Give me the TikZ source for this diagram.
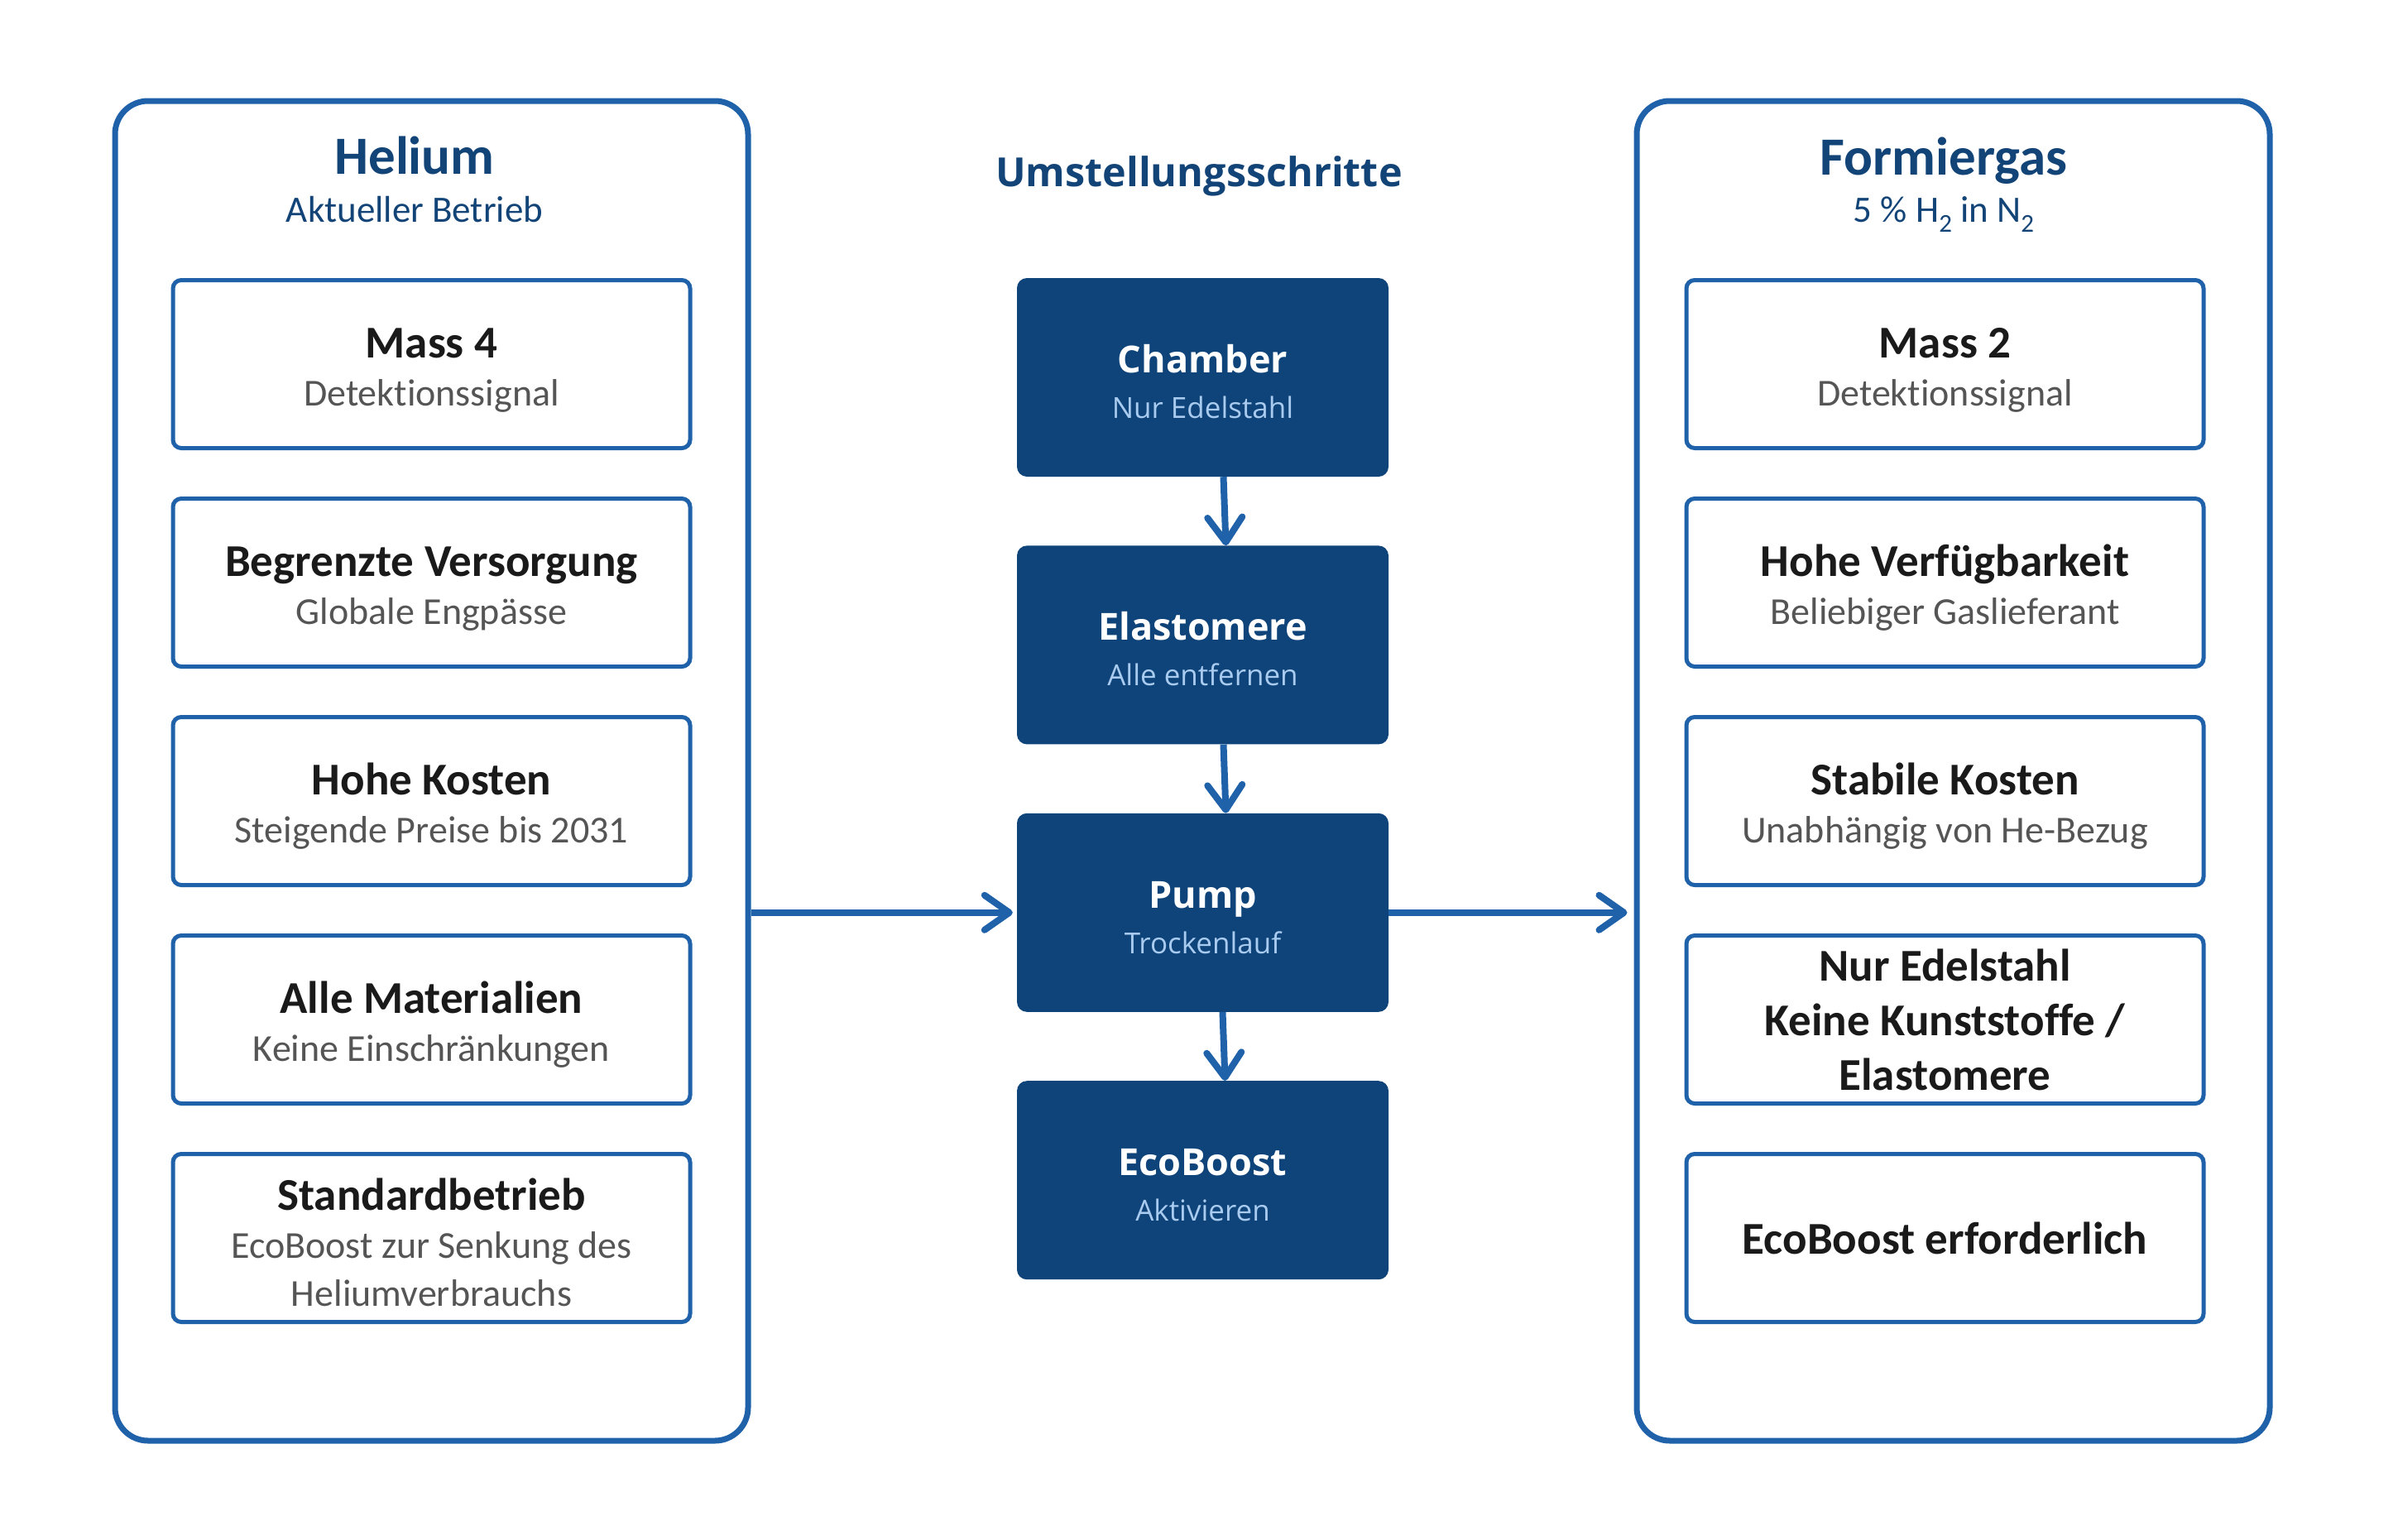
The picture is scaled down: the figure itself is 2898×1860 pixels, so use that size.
\documentclass[tikz,border=0pt]{standalone}
\usepackage{fontspec}
\setmainfont[Ligatures=NoCommon]{Carlito}
\newfontfamily\uifont{Open Sans}
\usetikzlibrary{positioning, arrows.meta}
\definecolor{mBlue}{HTML}{1F62AA}
\definecolor{mNavy}{HTML}{0E4479}
\definecolor{mTitle}{HTML}{134477}
\definecolor{mLight}{HTML}{A9CBEF}
\definecolor{mGray}{HTML}{555555}
\definecolor{mInk}{HTML}{1A1A1A}

\newcommand{\sidehead}[1]{{\fontsize{55}{58}\selectfont\bfseries\color{mInk}\rule{0pt}{50pt}#1}}
\newcommand{\sidetext}[2]{\sidehead{#1}\\\textcolor{mGray}{#2}}
\newcommand{\steptext}[2]{{\fontsize{45}{55}\selectfont\bfseries\rule{0pt}{44pt}#1}\\\textcolor{mLight}{#2}}
\newcommand{\subtwo}{\raisebox{-0.25em}{\fontsize{31}{31}\selectfont 2}}

\begin{document}
\begin{tikzpicture}[x=1pt, y=-1pt,
  every node/.style={font=\fontsize{46}{58}\selectfont},
  panel/.style={draw=mBlue, line width=7pt, rounded corners=40pt,
                minimum width=765pt, minimum height=1619pt, inner sep=0pt},
  sidebox/.style={draw=mBlue, line width=5pt, rounded corners=10pt, fill=white,
                  minimum width=625pt, minimum height=203pt, align=center, inner sep=0pt},
  stepbox/.style={fill=mNavy, rounded corners=12pt, minimum width=449pt,
                  minimum height=240pt, align=center, inner sep=0pt, text=white,
                  font=\uifont\fontsize{35}{55}\selectfont},
  ptitle/.style={text=mTitle, font=\bfseries\fontsize{65}{70}\selectfont},
  psub/.style={text=mTitle, font=\fontsize{45}{50}\selectfont},
  flow/.style={draw=mBlue, line width=8pt,
               -{Straight Barb[length=30pt, width=42pt, round]}},
]
  % Canvas
  \useasboundingbox (0,0) rectangle (2898,1860);

  % Panels
  \node[panel] (helium) at (521.5,931.5) {};
  \node[panel] (formier) at (2360.5,931.5) {};

  % Panel titles
  \node[ptitle] (heliumT) at (501,188) {Helium};
  \node[psub] (heliumS) at (501,253) {Aktueller Betrieb};
  \node[ptitle] (formierT) at (2349,194) {Formiergas};
  \node[psub] (formierS) at (2349,259) {5 \% H\subtwo{} in N\subtwo};
  \node[text=mTitle, font=\uifont\bfseries\fontsize{48.5}{52}\selectfont] (stepsT)
    at (1449,213) {Umstellungsschritte};

  % Helium side
  \foreach \n/\ti/\su in {1/Mass 4/Detektionssignal,
                          2/Begrenzte Versorgung/Globale Engpässe,
                          3/Hohe Kosten/Steigende Preise bis 2031,
                          4/Alle Materialien/Keine Einschränkungen} {
    \node[sidebox] (he\n) at (521.5,{440+264*(\n-1)}) {\sidetext{\ti}{\su}};
  }
  \node[sidebox] (he5) at (521.5,1496)
    {\sidehead{Standardbetrieb}\\\textcolor{mGray}{EcoBoost zur Senkung des}\\\textcolor{mGray}{Heliumverbrauchs}};

  % Formiergas side
  \foreach \n/\ti/\su in {1/Mass 2/Detektionssignal,
                          2/Hohe Verfügbarkeit/Beliebiger Gaslieferant,
                          3/Stabile Kosten/Unabhängig von He-Bezug} {
    \node[sidebox] (fg\n) at (2350.5,{440+264*(\n-1)}) {\sidetext{\ti}{\su}};
  }
  \node[sidebox, font=\bfseries\fontsize{55}{66}\selectfont, text=mInk] (fg4)
    at (2350.5,1232) {Nur Edelstahl\\Keine Kunststoffe /\\Elastomere};
  \node[sidebox, font=\bfseries\fontsize{55}{66}\selectfont, text=mInk] (fg5)
    at (2350.5,1496) {EcoBoost erforderlich};

  % Conversion steps
  \node[stepbox] (chamber) at (1453.5,456) {\steptext{Chamber}{Nur Edelstahl}};
  \node[stepbox, below=83pt of chamber] (elast) {\steptext{Elastomere}{Alle entfernen}};
  \node[stepbox, below=83pt of elast] (pump) {\steptext{Pump}{Trockenlauf}};
  \node[stepbox, below=83pt of pump] (eco) {\steptext{EcoBoost}{Aktivieren}};

  \draw[flow] ([xshift=25pt]chamber.south) -- ([xshift=28pt]elast.north);
  \draw[flow] ([xshift=25pt]elast.south) -- ([xshift=28pt]pump.north);
  \draw[flow] ([xshift=24pt]pump.south) -- ([xshift=27pt]eco.north);

  % Flow between panels
  \draw[flow, shorten >=5pt] (helium.east |- pump.west) -- (pump.west);
  \draw[flow, shorten >=8pt] (pump.east) -- (formier.west |- pump.east);
\end{tikzpicture}
\end{document}
